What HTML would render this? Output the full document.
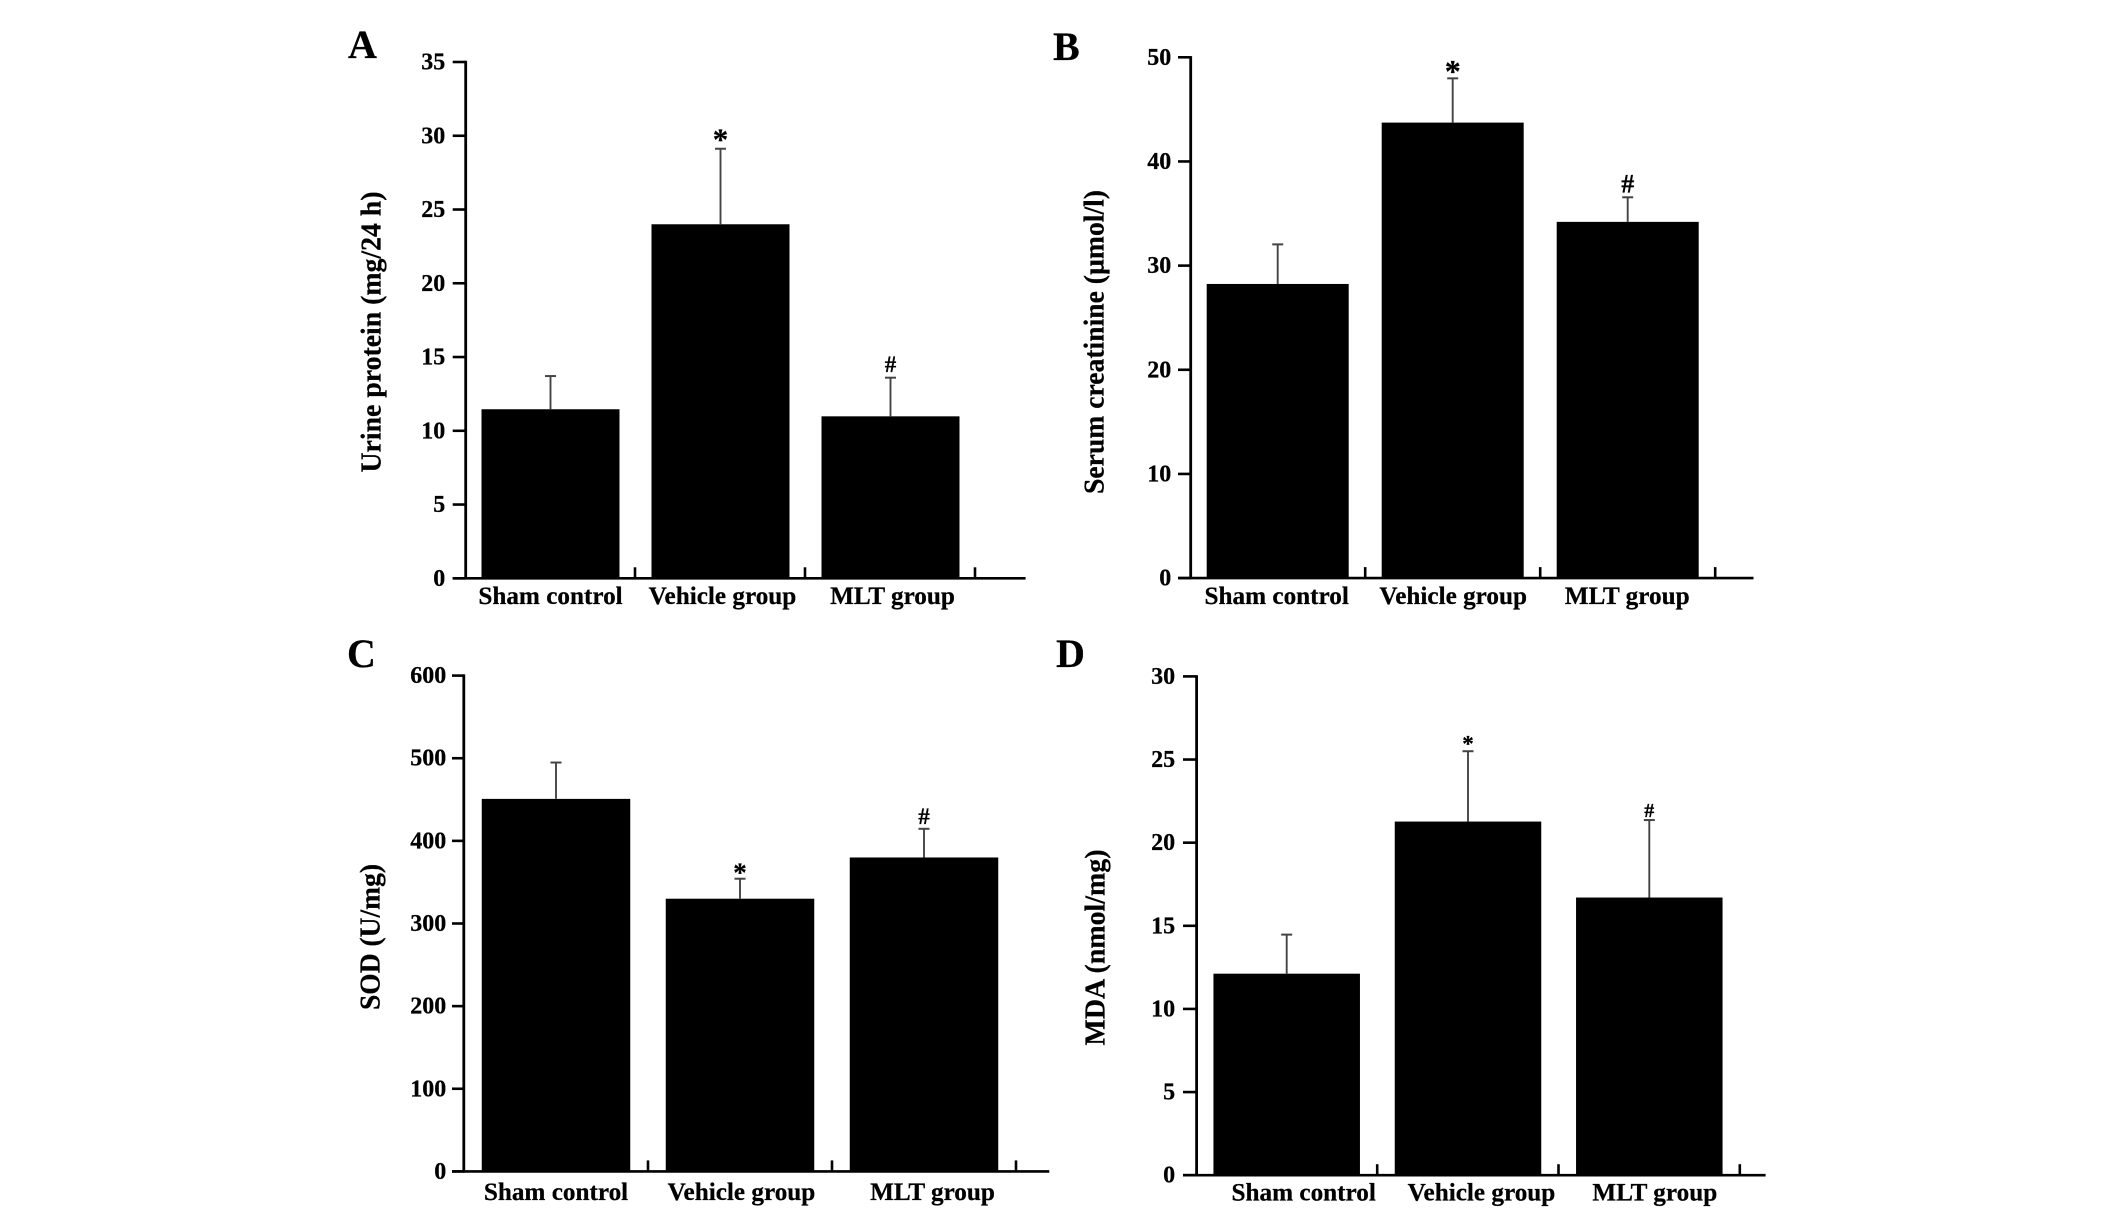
<!DOCTYPE html>
<html lang="en">
<head>
<meta charset="utf-8">
<title>Renal function and oxidative stress bar charts</title>
<style>
  html, body { margin: 0; padding: 0; background: #fff; }
  body { width: 2126px; height: 1213px; overflow: hidden; }
  svg { display: block; }
  text { font-family: "Liberation Serif", serif; font-weight: bold; fill: #000; stroke: #000; stroke-width: 0.25px; }
</style>
</head>
<body>
<svg id="figure" xmlns="http://www.w3.org/2000/svg" width="2126" height="1213" viewBox="0 0 2126 1213"></svg>
<script>
// ---- Data ----
const categories = ['Sham control', 'Vehicle group', 'MLT group'];

const urineTicks = [0, 5, 10, 15, 20, 25, 30, 35];
const urineValues = [11.46, 24.0, 10.98];
const urineErrors = [2.25, 5.12, 2.62];
const urineMarks = ['', '*', '#'];

const creatinineTicks = [0, 10, 20, 30, 40, 50];
const creatinineValues = [28.24, 43.73, 34.2];
const creatinineErrors = [3.8, 4.25, 2.36];
const creatinineMarks = ['', '*', '#'];

const sodTicks = [0, 100, 200, 300, 400, 500, 600];
const sodValues = [450.8, 330, 379.9];
const sodErrors = [44, 24.2, 34.7];
const sodMarks = ['', '*', '#'];

const mdaTicks = [0, 5, 10, 15, 20, 25, 30];
const mdaValues = [12.12, 21.27, 16.7];
const mdaErrors = [2.35, 4.23, 4.66];
const mdaMarks = ['', '*', '#'];

// ---- Panel geometry ----
const panels = [
  { id: 'a', letter: 'A', letterX: 348, letterY: 58, title: 'Urine protein (mg/24 h)', titleX: 380.7, titleY: 332, titleLen: 281,
    axisX: 465.7, top: 62, zero: 578.3, tickLeft: 452.7, axisEnd: 1025.6, first: 550.5, step: 170, barW: 138, labelBase: 604,
    labelShift: [0, 2, 2], sepShift: 84.5, labelGap: 20.5, starSize: 31, starOff: 1, hashSize: 23, hashOff: -5.5,
    ticks: urineTicks, values: urineValues, errors: urineErrors, marks: urineMarks },
  { id: 'b', letter: 'B', letterX: 1053, letterY: 60, title: 'Serum creatinine (\u00b5mol/l)', titleX: 1103.5, titleY: 342, titleLen: 304,
    axisX: 1190.7, top: 57.3, zero: 578.1, tickLeft: 1178, axisEnd: 1753.5, first: 1277.7, step: 175, barW: 142, labelBase: 604,
    labelShift: [-1, 0.5, -0.5], sepShift: 87.5, labelGap: 19.5, starSize: 32, starOff: 3.5, hashSize: 26, hashOff: -5,
    ticks: creatinineTicks, values: creatinineValues, errors: creatinineErrors, marks: creatinineMarks },
  { id: 'c', letter: 'C', letterX: 347, letterY: 667, title: 'SOD (U/mg)', titleX: 379.5, titleY: 937, titleLen: 146,
    axisX: 463.8, top: 675.6, zero: 1171.4, tickLeft: 452, axisEnd: 1049.3, first: 556, step: 184, barW: 148.5, labelBase: 1200,
    labelShift: [0, 1.5, 8.5], sepShift: 92, labelGap: 17.5, starSize: 27, starOff: 3, hashSize: 23, hashOff: -5,
    ticks: sodTicks, values: sodValues, errors: sodErrors, marks: sodMarks },
  { id: 'd', letter: 'D', letterX: 1056, letterY: 667, title: 'MDA (nmol/mg)', titleX: 1104.5, titleY: 947.5, titleLen: 196,
    axisX: 1196.6, top: 676.4, zero: 1175.2, tickLeft: 1183, axisEnd: 1765.6, first: 1286.7, step: 181.3, barW: 146.5, labelBase: 1200.5,
    labelShift: [17, 13.5, 5.5], sepShift: 90.5, labelGap: 21.5, starSize: 23, starOff: 0.5, hashSize: 20, hashOff: -3,
    ticks: mdaTicks, values: mdaValues, errors: mdaErrors, marks: mdaMarks }
];

const SVG_NS = 'http://www.w3.org/2000/svg';
const figure = document.getElementById('figure');

function makeEl(tag, attrs, parent) {
  const el = document.createElementNS(SVG_NS, tag);
  for (const key in attrs) el.setAttribute(key, attrs[key]);
  parent.appendChild(el);
  return el;
}

function makeLine(x1, y1, x2, y2, width, color, parent) {
  return makeEl('line', { x1: x1, y1: y1, x2: x2, y2: y2, stroke: color, 'stroke-width': width }, parent);
}

function makeText(str, x, y, size, anchor, parent) {
  const el = makeEl('text', { x: x, y: y, 'font-size': size, 'text-anchor': anchor }, parent);
  el.textContent = str;
  return el;
}

panels.forEach(function (p) {
  const maxTick = Math.max.apply(null, p.ticks);
  const yScale = function (v) { return p.zero - (v / maxTick) * (p.zero - p.top); };
  const xScale = function (i) { return p.first + p.step * i; };

  const group = makeEl('g', {}, figure);
  
  

  const letter = makeText(p.letter, p.letterX, p.letterY, 40, 'start', group);
  
  

  const title = makeText(p.title, 0, 0, 29, 'middle', group);
  title.setAttribute('textLength', p.titleLen);
  title.setAttribute('lengthAdjust', 'spacingAndGlyphs');
  title.setAttribute('transform', 'translate(' + p.titleX + ' ' + p.titleY + ') rotate(-90)');
  
  

  // Bars sit under the axes
  p.values.forEach(function (v, i) {
    const cx = xScale(i);
    const bar = makeEl('rect', { x: cx - p.barW / 2, y: yScale(v), width: p.barW, height: p.zero - yScale(v), fill: '#000' }, group);
    
    

    const errTop = yScale(v + p.errors[i]);
    const stem = makeLine(cx, yScale(v), cx, errTop, 1.9, '#444', group);
    
    

    const cap = makeLine(cx - 5.5, errTop, cx + 5.5, errTop, 2, '#444', group);
    
    

    const mark = p.marks[i];
    if (mark) {
      const isStar = mark === '*';
      const sig = makeText(mark, cx, errTop + (isStar ? p.starOff : p.hashOff), isStar ? p.starSize : p.hashSize, 'middle', group);
      
      
    }

    const label = makeText(categories[i], cx + p.labelShift[i], p.labelBase, 25.2, 'middle', group);
    
    

    const sep = makeLine(cx + p.sepShift, p.zero, cx + p.sepShift, p.zero - 11, 2.6, '#000', group);
    
    
  });

  const yAxis = makeLine(p.axisX, p.top - 1.2, p.axisX, p.zero + 1.2, 2.8, '#000', group);
  
  

  const xAxis = makeLine(p.tickLeft, p.zero, p.axisEnd, p.zero, 2.6, '#000', group);
  
  

  p.ticks.forEach(function (t) {
    const y = yScale(t);
    const tick = makeLine(p.tickLeft, y, p.axisX, y, 2.6, '#000', group);
    
    

    const tickLabel = makeText(String(t), p.axisX - p.labelGap, y + 7.5, 24, 'end', group);
    
    
  });
});
</script>
</body>
</html>
